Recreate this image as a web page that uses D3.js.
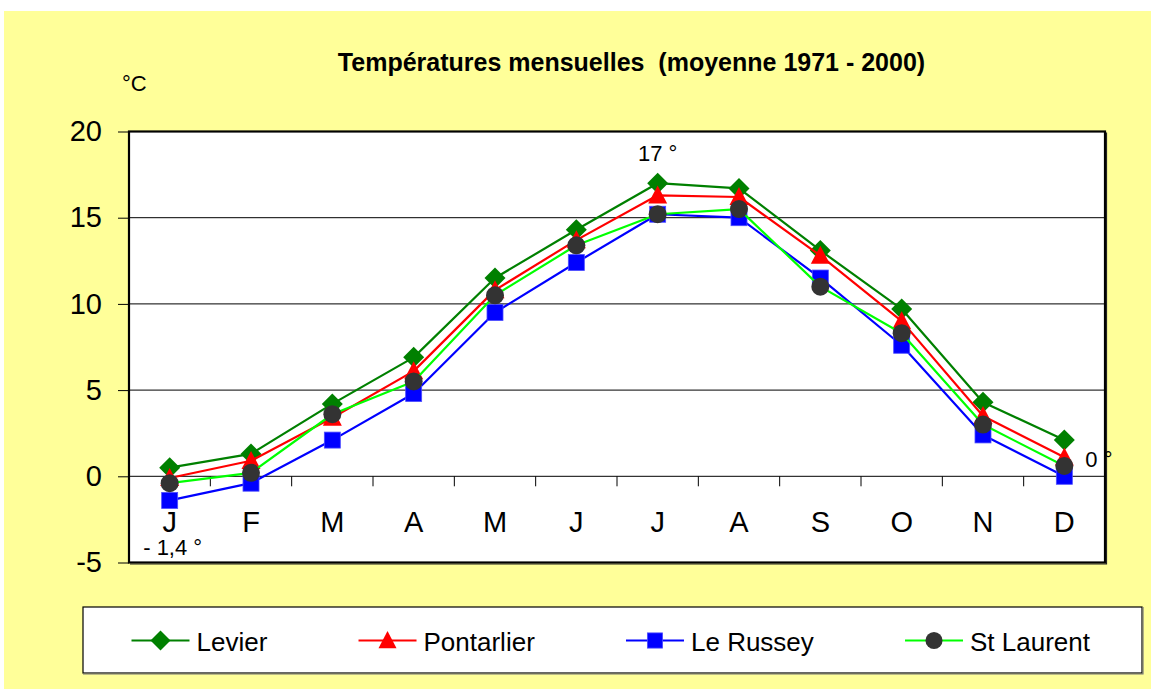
<!DOCTYPE html>
<html>
<head>
<meta charset="utf-8">
<script src="https://cdn.jsdelivr.net/npm/d3@7/dist/d3.min.js"></script>
<style>
  html, body { margin: 0; padding: 0; background: #ffffff; }
  svg { display: block; font-family: "Liberation Sans", Arial, sans-serif; }
</style>
</head>
<body>
<svg id="chart" width="1151" height="689"></svg>
<script>
// ---- data ----
const months = ["J", "F", "M", "A", "M", "J", "J", "A", "S", "O", "N", "D"];
const levier     = [0.5, 1.3, 4.2, 6.9, 11.5, 14.3, 17.0, 16.7, 13.1, 9.7, 4.3, 2.1];
const pontarlier = [-0.1, 0.9, 3.4, 6.1, 10.8, 13.7, 16.3, 16.2, 12.8, 9.0, 3.5, 1.1];
const leRussey   = [-1.4, -0.4, 2.1, 4.8, 9.5, 12.4, 15.2, 15.0, 11.5, 7.6, 2.4, 0.0];
const stLaurent  = [-0.4, 0.2, 3.6, 5.5, 10.5, 13.4, 15.2, 15.5, 11.0, 8.3, 3.0, 0.6];
const seriesNames = ["Levier", "Pontarlier", "Le Russey", "St Laurent"];
const yTicks = [-5, 0, 5, 10, 15, 20];
const yTickLabels = ["-5", "0", "5", "10", "15", "20"];
const title = "Températures mensuelles  (moyenne 1971 - 2000)";
const unitLabel = "°C";
const annotations = [
  { series: 0, month: 6, text: "17 °", pos: "above" },
  { series: 2, month: 0, text: "- 1,4 °", pos: "below" },
  { series: 2, month: 11, text: "0 °", pos: "right" }
];

// ---- styles ----
const styles = [
  { line: "#008000", fill: "#008000", shape: "diamond" },
  { line: "#ff0000", fill: "#ff0000", shape: "triangle" },
  { line: "#0000ff", fill: "#0000ff", shape: "square" },
  { line: "#00ff00", fill: "#333333", shape: "circle" }
];
const allSeries = [levier, pontarlier, leRussey, stLaurent];

const svg = d3.select("#chart");
const W = 1151, H = 689;

// background
svg.append("rect").attr("x", 4).attr("y", 11).attr("width", W - 4).attr("height", H - 11)
  .attr("fill", "#ffff99");

const plot = { left: 129, top: 131.5, right: 1105, bottom: 562.5 };

const x = d3.scaleBand().domain(d3.range(months.length))
  .range([plot.left, plot.right]).paddingInner(0).paddingOuter(0);
const xc = i => x(i) + x.bandwidth() / 2;
const y = d3.scaleLinear().domain([-5, 20]).range([plot.bottom, plot.top]);

// plot background
svg.append("rect").attr("x", plot.left).attr("y", plot.top)
  .attr("width", plot.right - plot.left).attr("height", plot.bottom - plot.top)
  .attr("fill", "#ffffff");

// gridlines
svg.append("g").selectAll("line").data(yTicks.filter(t => t > -5 && t < 20))
  .join("line")
  .attr("x1", plot.left).attr("x2", plot.right)
  .attr("y1", d => y(d)).attr("y2", d => y(d))
  .attr("stroke", "#000").attr("stroke-width", 1);

// y axis
const yAxis = d3.axisLeft(y).tickValues(yTicks).tickSize(11).tickPadding(16)
  .tickFormat((d, i) => yTickLabels[i]);
const gy = svg.append("g").attr("transform", `translate(${plot.left},0)`).call(yAxis);
gy.select(".domain").remove();
gy.selectAll(".tick line").attr("stroke", "#000").attr("stroke-width", 1);
gy.selectAll(".tick text").attr("font-size", 29).attr("fill", "#000")
  .attr("font-family", "Liberation Sans, Arial, sans-serif");

// x axis at zero: tick marks at band boundaries pointing down
const boundaries = d3.range(1, months.length).map(i => x(i));
svg.append("g").selectAll("line").data(boundaries).join("line")
  .attr("x1", d => d).attr("x2", d => d)
  .attr("y1", y(0)).attr("y2", y(0) + 10)
  .attr("stroke", "#000").attr("stroke-width", 1);
svg.append("g").selectAll("text").data(months).join("text")
  .attr("x", (d, i) => xc(i)).attr("y", y(0) + 56)
  .attr("text-anchor", "middle").attr("font-size", 29).attr("fill", "#000")
  .text(d => d);

// marker generator
function marker(sel, shape, fill, scale) {
  const s = scale || 1;
  if (shape === "diamond") {
    const r = 10.5 * s;
    sel.append("path").attr("d", `M0,${-r}L${r},0L0,${r}L${-r},0Z`).attr("fill", fill);
  } else if (shape === "triangle") {
    const h = 18 * s, w = 19 * s;
    sel.append("path").attr("d", `M0,${-h * 0.55}L${w / 2},${h * 0.45}L${-w / 2},${h * 0.45}Z`).attr("fill", fill);
  } else if (shape === "square") {
    const a = 16 * s;
    sel.append("rect").attr("x", -a / 2).attr("y", -a / 2).attr("width", a).attr("height", a)
      .attr("fill", fill).attr("stroke", "#4d4dff").attr("stroke-width", 0.8);
  } else {
    sel.append("circle").attr("r", 9 * s).attr("fill", fill);
  }
}

// series
const lineGen = d3.line().x((d, i) => xc(i)).y(d => y(d));
allSeries.forEach((vals, si) => {
  const g = svg.append("g");
  g.append("path").attr("d", lineGen(vals)).attr("fill", "none")
    .attr("stroke", styles[si].line).attr("stroke-width", 2.2).attr("stroke-linejoin", "round");
  vals.forEach((v, i) => {
    const m = g.append("g").attr("transform", `translate(${xc(i)},${y(v)})`);
    marker(m, styles[si].shape, styles[si].fill, 1);
  });
});

// plot border
svg.append("rect").attr("x", plot.left).attr("y", plot.top)
  .attr("width", plot.right - plot.left).attr("height", plot.bottom - plot.top)
  .attr("fill", "none").attr("stroke", "#000").attr("stroke-width", 2.2);
svg.append("path")
  .attr("d", `M${plot.right + 1.5},${plot.top + 1}V${plot.bottom + 1.5}H${plot.left + 1}`)
  .attr("fill", "none").attr("stroke", "#222").attr("stroke-width", 1.2);

// annotations
annotations.forEach(a => {
  const px = xc(a.month), py = y(allSeries[a.series][a.month]);
  const t = svg.append("text").attr("font-size", 22).attr("fill", "#000")
    .style("white-space", "pre").text(a.text);
  if (a.pos === "above") t.attr("x", px).attr("y", py - 22).attr("text-anchor", "middle");
  else if (a.pos === "below") t.attr("x", px + 3).attr("y", py + 55).attr("text-anchor", "middle");
  else t.attr("x", px + 21).attr("y", py - 9.5).attr("text-anchor", "start");
});

// title & unit
svg.append("text").attr("x", 631.5).attr("y", 71).attr("text-anchor", "middle")
  .attr("font-size", 25).attr("font-weight", "bold").style("white-space", "pre")
  .text(title);
svg.append("text").attr("x", 122).attr("y", 91).attr("font-size", 22).text(unitLabel);

// legend
const lg = { left: 83, top: 607, right: 1142, bottom: 673 };
svg.append("rect").attr("x", lg.left).attr("y", lg.top)
  .attr("width", lg.right - lg.left).attr("height", lg.bottom - lg.top)
  .attr("fill", "#ffffff").attr("stroke", "#000").attr("stroke-width", 1.2);
svg.append("path").attr("d", `M${lg.left},${lg.bottom + 1}H${lg.right + 1}V${lg.top}`)
  .attr("fill", "none").attr("stroke", "#777").attr("stroke-width", 1.2);

const lineLen = 58, gapText = 7;
const items = seriesNames.map((name, si) => {
  const g = svg.append("g");
  const txt = g.append("text").attr("x", lineLen + gapText).attr("y", 10)
    .attr("font-size", 26).attr("fill", "#000").text(name);
  const w = lineLen + gapText + txt.node().getComputedTextLength();
  g.append("line").attr("x1", 0).attr("x2", lineLen).attr("y1", 0).attr("y2", 0)
    .attr("stroke", styles[si].line).attr("stroke-width", 2.2);
  const m = g.append("g").attr("transform", `translate(${lineLen / 2},0)`);
  marker(m, styles[si].shape, styles[si].fill, 0.95);
  return { g, w };
});
const startX = 131.5, endX = 1090;
const totalW = d3.sum(items, d => d.w);
const gap = (endX - startX - totalW) / (items.length - 1);
let cx = startX;
const legendY = (lg.top + lg.bottom) / 2 + 0.5;
items.forEach(it => {
  it.g.attr("transform", `translate(${cx},${legendY})`);
  cx += it.w + gap;
});
</script>
</body>
</html>
